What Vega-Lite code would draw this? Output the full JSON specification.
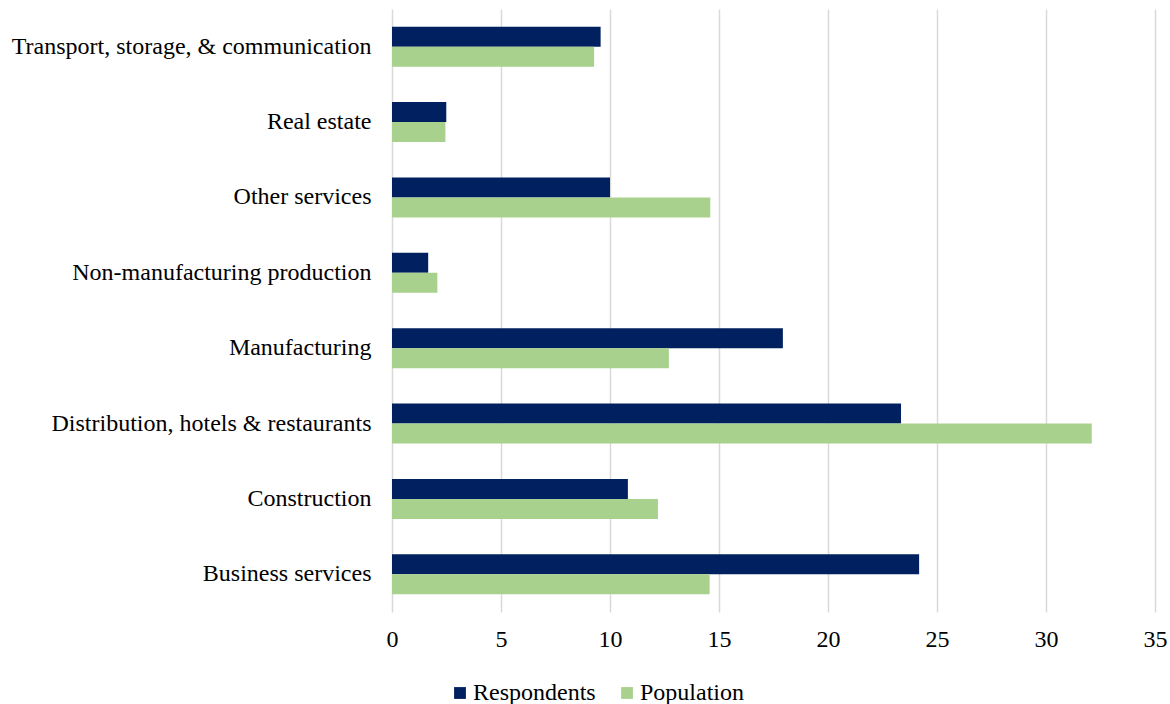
{
  "$schema": "https://vega.github.io/schema/vega-lite/v6.json",
  "width": 763,
  "height": 603,
  "autosize": {"type": "none"},
  "padding": {"left": 392, "top": 9, "right": 15, "bottom": 92},
  "background": "white",
  "config": {
    "font": "Liberation Serif",
    "view": {"stroke": null},
    "legend": {"labelFont": "Liberation Serif"}
  },
  "data": {
    "values": [
      {"sector": "Transport, storage, & communication", "series": "Respondents", "value": 9.57},
      {"sector": "Transport, storage, & communication", "series": "Population", "value": 9.27},
      {"sector": "Real estate", "series": "Respondents", "value": 2.49},
      {"sector": "Real estate", "series": "Population", "value": 2.45},
      {"sector": "Other services", "series": "Respondents", "value": 10.0},
      {"sector": "Other services", "series": "Population", "value": 14.6},
      {"sector": "Non-manufacturing production", "series": "Respondents", "value": 1.66},
      {"sector": "Non-manufacturing production", "series": "Population", "value": 2.08},
      {"sector": "Manufacturing", "series": "Respondents", "value": 17.93},
      {"sector": "Manufacturing", "series": "Population", "value": 12.7},
      {"sector": "Distribution, hotels & restaurants", "series": "Respondents", "value": 23.35},
      {"sector": "Distribution, hotels & restaurants", "series": "Population", "value": 32.1},
      {"sector": "Construction", "series": "Respondents", "value": 10.82},
      {"sector": "Construction", "series": "Population", "value": 12.2},
      {"sector": "Business services", "series": "Respondents", "value": 24.18},
      {"sector": "Business services", "series": "Population", "value": 14.57}
    ]
  },
  "mark": {"type": "bar"},
  "encoding": {
    "y": {
      "field": "sector",
      "type": "nominal",
      "sort": ["Transport, storage, & communication", "Real estate", "Other services", "Non-manufacturing production", "Manufacturing", "Distribution, hotels & restaurants", "Construction", "Business services"],
      "scale": {"paddingInner": 0.47, "paddingOuter": 0.235},
      "axis": {
        "title": null,
        "ticks": false,
        "domain": false,
        "labelFont": "Liberation Serif",
        "labelFontSize": 24,
        "labelColor": "#000000",
        "labelPadding": 21,
        "labelLimit": 400
      }
    },
    "yOffset": {
      "field": "series",
      "type": "nominal",
      "sort": ["Respondents", "Population"]
    },
    "x": {
      "field": "value",
      "type": "quantitative",
      "scale": {"domain": [0, 35], "nice": false},
      "axis": {
        "title": null,
        "values": [0, 5, 10, 15, 20, 25, 30, 35],
        "ticks": false,
        "domain": false,
        "grid": true,
        "gridColor": "#d9d9d9",
        "gridWidth": 1.5,
        "labelFont": "Liberation Serif",
        "labelFontSize": 24,
        "labelColor": "#000000",
        "labelPadding": 15,
        "labelFlush": false
      }
    },
    "color": {
      "field": "series",
      "type": "nominal",
      "sort": ["Respondents", "Population"],
      "scale": {"domain": ["Respondents", "Population"], "range": ["#002060", "#A9D18E"]},
      "legend": {
        "title": null,
        "orient": "none",
        "direction": "horizontal",
        "legendX": 56,
        "legendY": 672,
        "symbolType": "square",
        "symbolSize": 140,
        "symbolStrokeWidth": 0,
        "labelFont": "Liberation Serif",
        "labelFontSize": 24,
        "labelColor": "#000000",
        "columnPadding": 19,
        "labelOffset": 1
      }
    }
  }
}
